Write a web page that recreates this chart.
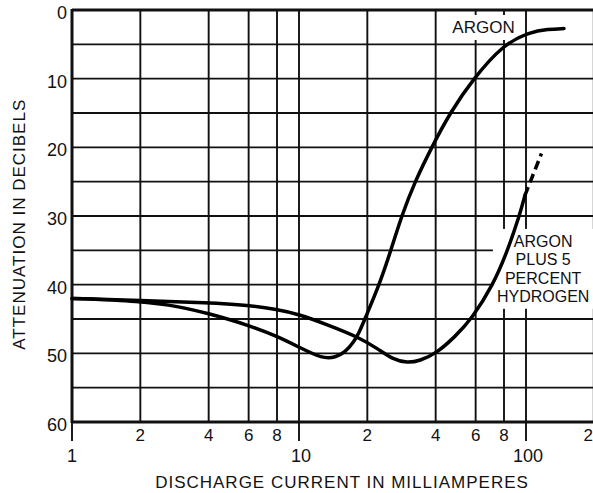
<!DOCTYPE html>
<html>
<head>
<meta charset="utf-8">
<script src="https://cdn.jsdelivr.net/npm/d3@7"></script>
<style>
  body { margin: 0; background: #fff; }
  svg { display: block; }
  text { font-family: "Liberation Sans", Arial, sans-serif; fill: #111; }
</style>
</head>
<body>
<div id="chart"></div>
<script>
// attenuation (dB) vs discharge current (mA)
const argonCurrent = [1, 2, 3, 4, 6, 8, 10, 12.7, 14.5, 16, 17.3, 18.4, 19.5, 22.6, 25.4, 28.3, 32.4, 38.4, 46.2, 58.6, 79.5, 104, 125, 147]
const argonDb = [42, 42.4, 43.2, 44.2, 45.9, 47.5, 49.1, 50.8, 50.6, 49.8, 48.5, 47, 45, 40, 35, 30, 25, 20, 15, 10, 5, 3.2, 2.8, 2.7]

const hydrogenCurrent = [1, 2, 4, 6, 8, 10, 13.5, 18.2, 22.4, 26, 30, 34, 40.3, 48.6, 57.6, 71.8, 83, 93.5, 98.9]
const hydrogenDb = [42, 42.3, 42.6, 43, 43.6, 44.3, 45.9, 47.6, 49.4, 50.9, 51.4, 51.1, 50, 47.6, 45, 40, 35, 30, 27]
const hydrogenDashCurrent = [98.9, 117]
const hydrogenDashDb = [27, 20.9]

const yGrid = [0, 5, 10, 15, 20, 25, 30, 35, 40, 45, 50, 55, 60]
const yLabels = [0, 10, 20, 30, 40, 50, 60]
const xGrid = [2, 4, 6, 8, 10, 20, 40, 60, 80, 100]
const xMinorTicks = [2, 4, 6, 8, 20, 40, 60, 80, 200]
const xMajorTicks = [1, 10, 100]

const width = 593
const height = 493
const margin = { top: 10, left: 72, bottom: 71 }
const decade = 227

const svg = d3
  .select('#chart')
  .append('svg')
  .attr('width', width)
  .attr('height', height)

const x = d3
  .scaleLog()
  .domain([1, 200])
  .range([margin.left, margin.left + decade * Math.log10(200)])

const y = d3
  .scaleLinear()
  .domain([0, 60])
  .range([margin.top, height - margin.bottom])

// grid
const grid = svg.append('g').attr('stroke', '#111').attr('stroke-width', 1.9)

grid
  .selectAll('line.h')
  .data(yGrid)
  .join('line')
  .attr('class', 'h')
  .attr('x1', x(1))
  .attr('x2', x(200))
  .attr('y1', d => y(d))
  .attr('y2', d => y(d))

grid
  .selectAll('line.v')
  .data(xGrid)
  .join('line')
  .attr('class', 'v')
  .attr('x1', d => x(d))
  .attr('x2', d => x(d))
  .attr('y1', y(0))
  .attr('y2', y(60))

// ticks hanging below the axis at the decades
grid
  .selectAll('line.t')
  .data(xMajorTicks)
  .join('line')
  .attr('class', 't')
  .attr('x1', d => x(d))
  .attr('x2', d => x(d))
  .attr('y1', y(60))
  .attr('y2', y(60) + 19)

// frame
const frame = svg.append('g').attr('stroke', '#111').attr('stroke-width', 3).attr('fill', 'none')
frame.append('line').attr('x1', x(1)).attr('x2', x(1)).attr('y1', y(0) - 1).attr('y2', y(60) + 1)
frame.append('line').attr('x1', x(1)).attr('x2', x(200)).attr('y1', y(0)).attr('y2', y(0))
frame.append('line').attr('x1', x(1)).attr('x2', x(200)).attr('y1', y(60)).attr('y2', y(60))
frame.append('line').attr('x1', x(200)).attr('x2', x(200)).attr('y1', y(0)).attr('y2', y(60))

// axis labels
svg
  .append('g')
  .attr('font-size', 18)
  .attr('text-anchor', 'end')
  .selectAll('text')
  .data(yLabels)
  .join('text')
  .attr('x', x(1) - 5)
  .attr('y', d => y(d) + 9)
  .text(d => d)

svg
  .append('g')
  .attr('font-size', 17)
  .selectAll('text')
  .data(xMinorTicks)
  .join('text')
  .attr('text-anchor', d => (d === 200 ? 'end' : 'middle'))
  .attr('x', d => (d === 200 ? width : x(d)))
  .attr('y', y(60) + 19)
  .text(d => String(d)[0])

svg
  .append('g')
  .attr('font-size', 18)
  .attr('text-anchor', 'middle')
  .selectAll('text')
  .data(xMajorTicks)
  .join('text')
  .attr('x', d => x(d) + (d === 1 ? 0 : 2))
  .attr('y', y(60) + 40)
  .text(d => d)

svg
  .append('text')
  .attr('font-size', 17)
  .attr('letter-spacing', 1)
  .attr('text-anchor', 'middle')
  .attr('x', 342)
  .attr('y', 488)
  .text('DISCHARGE CURRENT IN MILLIAMPERES')

svg
  .append('text')
  .attr('font-size', 17)
  .attr('letter-spacing', 1)
  .attr('text-anchor', 'middle')
  .attr('transform', `translate(25, ${y(31.2)}) rotate(-90)`)
  .text('ATTENUATION IN DECIBELS')

// curve labels on white patches that break the grid
function label(lines, cx, baseline, size, pad) {
  const g = svg.append('g')
  const rect = g.append('rect').attr('fill', '#fff')
  const t = g
    .append('text')
    .attr('font-size', size)
    .attr('text-anchor', 'middle')
  lines.forEach((s, i) => {
    t.append('tspan').attr('x', cx).attr('y', baseline + i * 18.3).text(s)
  })
  const b = t.node().getBBox()
  rect
    .attr('x', b.x - pad)
    .attr('y', b.y - pad)
    .attr('width', b.width + pad * 2)
    .attr('height', b.height + pad * 2)
}

label(['ARGON'], x(65), y(3.35), 17, 3)
label(['ARGON', 'PLUS 5', 'PERCENT', 'HYDROGEN'], x(119), y(34.5), 16, 4)

// curves
const line = d3
  .line()
  .x(d => x(d[0]))
  .y(d => y(d[1]))
  .curve(d3.curveBasis)

const curves = svg
  .append('g')
  .attr('fill', 'none')
  .attr('stroke', '#000')
  .attr('stroke-width', 3.5)
  .attr('stroke-linecap', 'round')

curves.append('path').attr('d', line(d3.zip(argonCurrent, argonDb)))
curves.append('path').attr('d', line(d3.zip(hydrogenCurrent, hydrogenDb)))
curves
  .append('path')
  .attr('stroke-dasharray', '9 5')
  .attr('stroke-linecap', 'butt')
  .attr('d', line(d3.zip(hydrogenDashCurrent, hydrogenDashDb)))
</script>
</body>
</html>
